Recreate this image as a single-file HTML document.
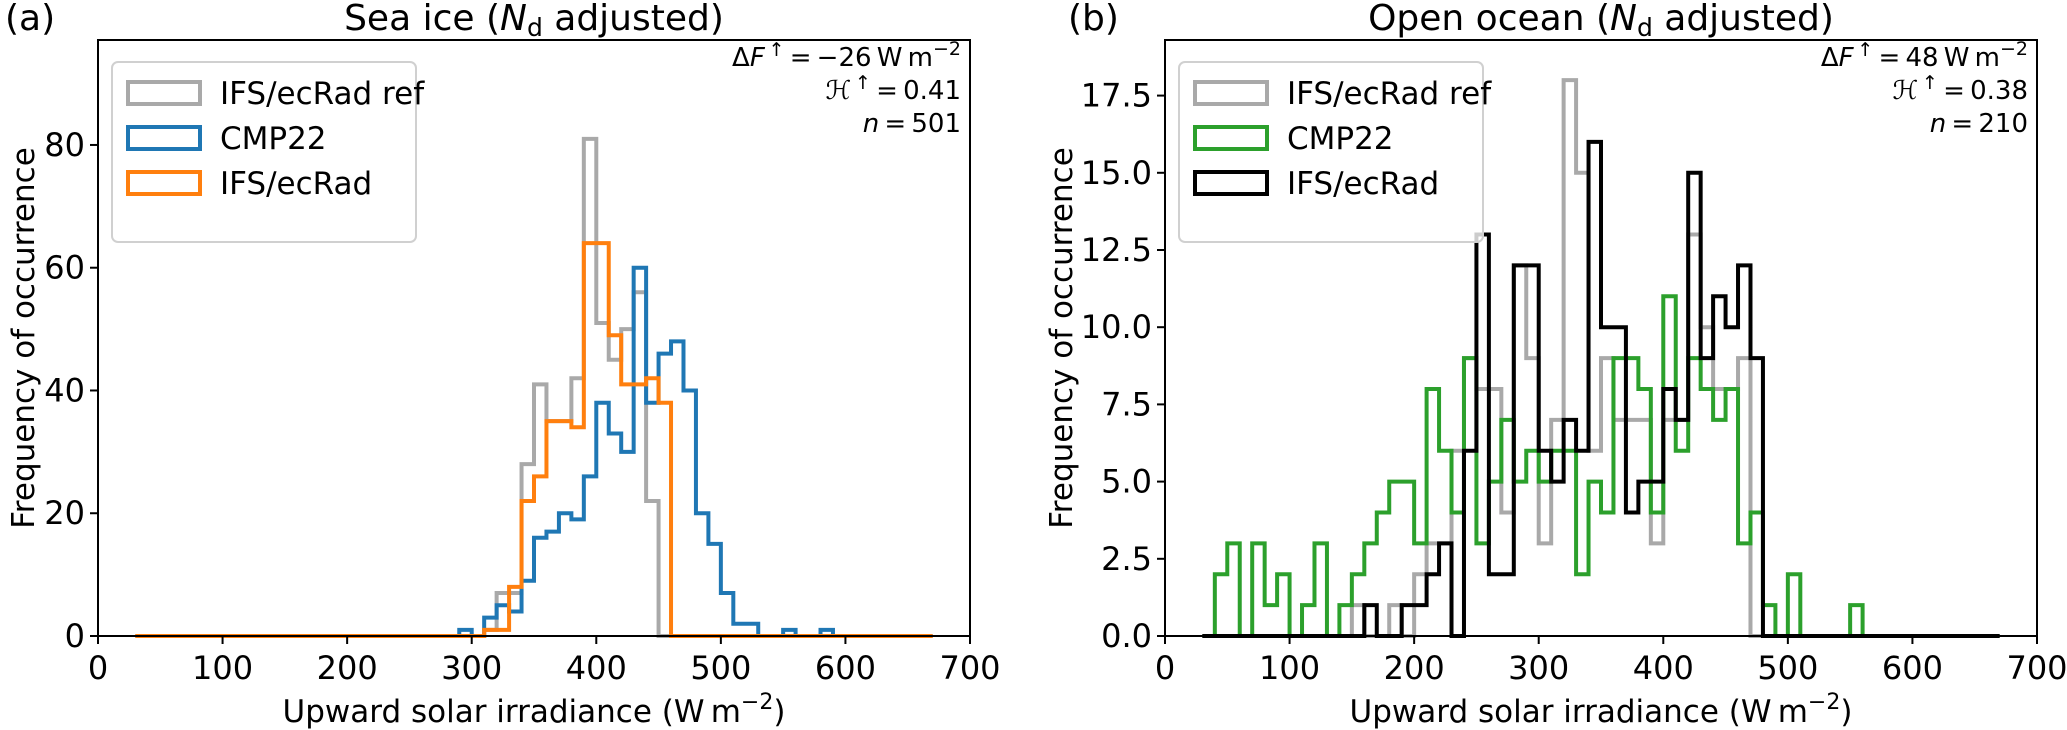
<!DOCTYPE html>
<html><head><meta charset="utf-8"><style>
html,body{margin:0;padding:0;background:#fff;}
svg{display:block;font-family:"DejaVu Sans","Liberation Sans",sans-serif;}
</style></head><body>
<svg id="fig" width="2067" height="730" viewBox="0 0 2067 730" xmlns="http://www.w3.org/2000/svg">
<g id="panelA"></g>
<g id="panelB"></g>
</svg>
<script>
// ----- data (bin start in W m-2, bin width 10, range 30-670) -----
const binStart = 30;
const binWidth = 10;
const binCount = 64;
// Panel a: sea ice
const aRefBins = [310,320,330,340,350,360,370,380,390,400,410,420,430,440];
const aRefCounts = [1,7,7,28,41,35,35,42,81,51,45,50,56,22];
const aCmpBins = [290,310,320,330,340,350,360,370,380,390,400,410,420,430,440,450,460,470,480,490,500,510,520,550,580];
const aCmpCounts = [1,3,5,4,9,16,17,20,19,26,38,33,30,60,38,46,48,40,20,15,7,2,2,1,1];
const aIfsBins = [310,320,330,340,350,360,370,380,390,400,410,420,430,440,450];
const aIfsCounts = [1,1,8,22,26,35,35,34,64,64,49,41,41,42,38];
const aYTicks = [0,20,40,60,80];
// Panel b: open ocean
const bRefBins = [150,180,200,210,220,230,240,250,260,270,280,290,300,310,320,330,340,350,360,370,380,390,400,410,420,430,440,450,460];
const bRefCounts = [1,1,2,3,3,6,9,8,8,4,12,9,3,7,18,15,6,9,7,7,7,3,7,7,13,10,8,8,9];
const bCmpBins = [40,50,70,80,90,110,120,140,150,160,170,180,190,200,210,220,230,240,250,260,270,280,290,300,310,320,330,340,350,360,370,380,390,400,410,420,430,440,450,460,470,480,500,550];
const bCmpCounts = [2,3,3,1,2,1,3,1,2,3,4,5,5,3,8,6,4,9,3,5,7,5,6,5,6,6,2,5,4,9,9,8,4,11,6,9,8,7,8,3,4,1,2,1];
const bIfsBins = [160,190,200,210,220,240,250,260,270,280,290,300,310,320,330,340,350,360,370,380,390,400,410,420,430,440,450,460,470];
const bIfsCounts = [1,1,1,2,3,6,13,2,2,12,12,6,5,7,6,16,10,10,4,5,5,8,7,15,9,11,10,12,9];
const bYTicks = [0,2.5,5,7.5,10,12.5,15,17.5];
const xTicks = [0,100,200,300,400,500,600,700];
const legendLabels = ["IFS/ecRad ref","CMP22","IFS/ecRad"];

const NS = "http://www.w3.org/2000/svg";
function mk(tag, attrs, parent){
  const e = document.createElementNS(NS, tag);
  for (const k in attrs) e.setAttribute(k, attrs[k]);
  if (parent) parent.appendChild(e);
  return e;
}
function fullCounts(bins, counts){
  const arr = new Array(binCount).fill(0);
  bins.forEach((b,i)=>{ const idx = Math.round((b-binStart)/binWidth); if(idx>=0&&idx<binCount) arr[idx]=counts[i]; });
  return arr;
}

function drawPanel(g, cfg){
  const L = cfg.left, R = cfg.right, T = 40, B = 636;
  const xs = v => L + (v - 0) / 700 * (R - L);
  const ys = v => B - v / cfg.ymax * (B - T);
  cfg.series.forEach(s => {
    const c = fullCounts(s.bins, s.counts);
    let d = "M" + xs(binStart) + " " + ys(0);
    for (let i = 0; i < binCount; i++) {
      const x0 = xs(binStart + i*binWidth), x1 = xs(binStart + (i+1)*binWidth);
      d += " L" + x0 + " " + ys(c[i]) + " L" + x1 + " " + ys(c[i]);
    }
    d += " L" + xs(binStart + binCount*binWidth) + " " + ys(0);
    const p = mk("path", {d: d, fill: "none", stroke: s.color, "stroke-width": 4, "stroke-linejoin": "miter"}, g);
    
    
  });
  const fr = mk("rect", {x: L, y: T, width: R-L, height: B-T, fill: "none", stroke: "#000", "stroke-width": 2}, g);
  
  
  xTicks.forEach(v => {
    const tk = mk("line", {x1: xs(v), x2: xs(v), y1: B, y2: B+8, stroke: "#000", "stroke-width": 2}, g);
    
    
    const t = mk("text", {x: xs(v), y: B+43, "font-size": 32, "text-anchor": "middle"}, g);
    t.textContent = v;
    
    
  });
  cfg.yticks.forEach(v => {
    const tk = mk("line", {x1: L-8, x2: L, y1: ys(v), y2: ys(v), stroke: "#000", "stroke-width": 2}, g);
    
    
    const t = mk("text", {x: L-13, y: ys(v)+11, "font-size": 32, "text-anchor": "end"}, g);
    t.textContent = cfg.yfmt(v);
    
    
  });
  const xl = mk("text", {x: (L+R)/2, y: 722, "font-size": 31, "text-anchor": "middle"}, g);
  xl.innerHTML = 'Upward solar irradiance (W\u2009m<tspan dy="-13" font-size="22">\u22122</tspan><tspan dy="13">)</tspan>';
  
  
  const yl = mk("text", {x: 0, y: 0, "font-size": 31, "text-anchor": "middle", transform: "translate(" + cfg.ylabelX + "," + (T+B)/2 + ") rotate(-90)"}, g);
  yl.textContent = "Frequency of occurrence";
  
  
  const tt = mk("text", {x: (L+R)/2, y: 30, "font-size": 36, "text-anchor": "middle"}, g);
  tt.innerHTML = cfg.title + ' (<tspan font-style="italic">N</tspan><tspan dy="6" font-size="25">d</tspan><tspan dy="-6"> adjusted)</tspan>';
  
  
  const pl = mk("text", {x: cfg.tagX, y: 30, "font-size": 36}, g);
  pl.textContent = cfg.tag;
  
  
  const lg = mk("g", {}, g);
  
  
  const lx = L + 14, ly = 62;
  mk("rect", {x: lx, y: ly, width: 304, height: 180, rx: 6, fill: "#fff", "fill-opacity": 0.8, stroke: "#d0d0d0", "stroke-width": 2}, lg);
  cfg.series.forEach((s, i) => {
    const cy = 93 + i*45;
    const e = mk("g", {}, lg);
    
    
    mk("rect", {x: lx+16, y: cy-11, width: 72, height: 22, fill: "none", stroke: s.color, "stroke-width": 4}, e);
    const t = mk("text", {x: lx+108, y: cy+11, "font-size": 31}, e);
    t.textContent = legendLabels[i];
  });
  const an = mk("g", {"font-size": 26, "text-anchor": "end"}, g);
  
  
  const ax = R - 9;
  const a1 = mk("text", {x: ax, y: 66}, an);
  a1.innerHTML = '\u0394<tspan font-style="italic">F</tspan><tspan dy="-10" font-size="19">\u2009\u2191</tspan><tspan dy="10">\u2009=\u2009' + cfg.dF + '\u2009W\u2009m</tspan><tspan dy="-11" font-size="19">\u22122</tspan>';
  const a2 = mk("text", {x: ax, y: 99}, an);
  a2.innerHTML = '<tspan font-style="italic">\u210B</tspan><tspan dy="-10" font-size="19">\u2009\u2191</tspan><tspan dy="10">\u2009=\u2009' + cfg.H + '</tspan>';
  const a3 = mk("text", {x: ax, y: 132}, an);
  a3.innerHTML = '<tspan font-style="italic">n</tspan>\u2009=\u2009' + cfg.n;
}

drawPanel(document.getElementById("panelA"), {
  left: 98, right: 970, ymax: 97.1, yticks: aYTicks, yfmt: v => String(v),
  ylabelX: 34, title: "Sea ice", tag: "(a)", tagX: 5,
  dF: "\u221226", H: "0.41", n: 501,
  series: [
    {name: "histogram-ifs-ecrad-ref", color: "#a9a9a9", bins: aRefBins, counts: aRefCounts},
    {name: "histogram-cmp22", color: "#1f77b4", bins: aCmpBins, counts: aCmpCounts},
    {name: "histogram-ifs-ecrad", color: "#ff7f0e", bins: aIfsBins, counts: aIfsCounts}
  ]
});
drawPanel(document.getElementById("panelB"), {
  left: 1165, right: 2037, ymax: 19.3, yticks: bYTicks, yfmt: v => v.toFixed(1),
  ylabelX: 1072, title: "Open ocean", tag: "(b)", tagX: 1068,
  dF: "48", H: "0.38", n: 210,
  series: [
    {name: "histogram-ifs-ecrad-ref", color: "#a9a9a9", bins: bRefBins, counts: bRefCounts},
    {name: "histogram-cmp22", color: "#2ca02c", bins: bCmpBins, counts: bCmpCounts},
    {name: "histogram-ifs-ecrad", color: "#000000", bins: bIfsBins, counts: bIfsCounts}
  ]
});
</script>
</body></html>
